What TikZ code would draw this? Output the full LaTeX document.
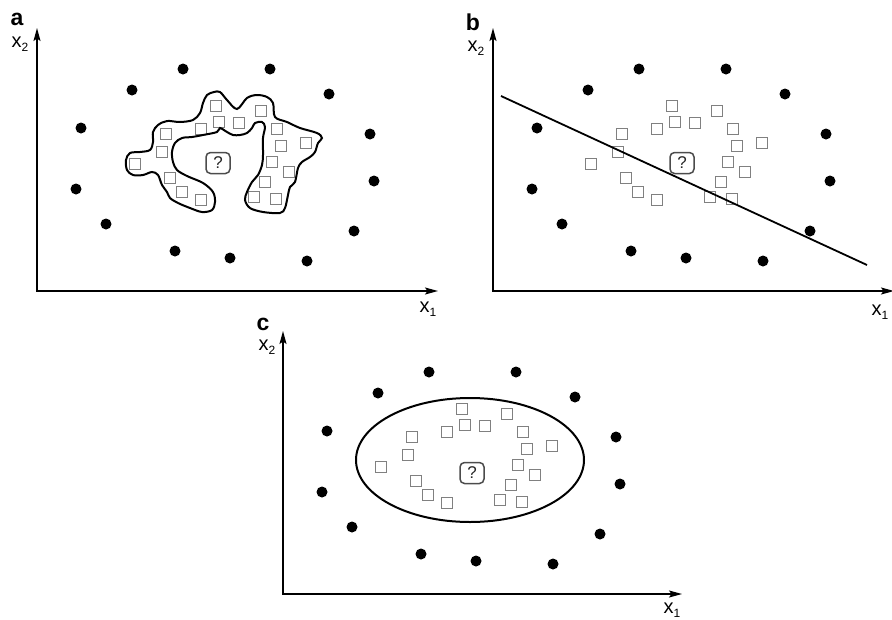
\documentclass[tikz,border=0pt]{standalone}
\usepackage{fontspec}
\setmainfont{Liberation Sans}
\usetikzlibrary{arrows.meta, positioning, calc}
\tikzset{
    scaxis/.style={{Stealth[length=13pt, width=7pt, inset=2.5pt]}-{Stealth[length=13pt, width=7pt, inset=2.5pt]}, line width=1.5pt},
    scdot/.style={circle, fill=black, inner sep=0pt, minimum size=11pt},
    scsquare/.style={rectangle, draw=black!50, line width=1.4pt, inner sep=0pt, minimum size=10.5pt},
    scquery/.style={rectangle, rounded corners=4.5pt, draw=black!70, line width=1.5pt, inner sep=0pt,
        minimum width=24pt, minimum height=21pt, text=black!85, font=\fontsize{17}{17}\selectfont},
    scbound/.style={line width=2pt},
    sctag/.style={font=\bfseries\fontsize{23}{23}\selectfont, inner sep=0pt},
    sclabel/.style={font=\fontsize{20}{20}\selectfont, inner sep=0pt}
}
\newcommand{\subx}[1]{x\raisebox{-0.4ex}{\fontsize{12}{12}\selectfont #1}}
% the same two classes in every panel, relative to its origin
\newcommand{\scatterpanel}[1]{%
  \foreach \px/\py [count=\i] in {146/-222, 95/-201, 44/-163, 39/-102, 69/-67, 138/-40, 233/-222,
      292/-197, 333/-157, 337/-110, 317/-60, 193/-33, 270/-30}
    \node[scdot] (#1d\i) at (\px,\py) {};
  \foreach \px/\py [count=\i] in {179/-185, 182/-169, 202/-168, 224/-180, 164/-162, 129/-157,
      125/-139, 98/-127, 133/-113, 145/-99, 164/-91, 240/-162, 244/-145, 269/-148, 235/-129,
      252/-119, 228/-109, 217/-94, 239/-92}
    \node[scsquare] (#1s\i) at (\px,\py) {};
}

\begin{document}
\begin{tikzpicture}[x=1pt, y=-1pt]
  \path[use as bounding box] (0,0) rectangle (892,619);
  % a: irregular boundary
  \begin{scope}[shift={(37,291)}]
    \coordinate (a-o) at (0,0);
    \coordinate (a-y) at (0,-263);
    \coordinate (a-x) at (401,0);
    \draw[scaxis] (a-y) -- (a-o) -- (a-x);
    \node[sctag] (a-tag) at (-20,-272) {a};
    \node[sclabel] (a-x2) at (-17,-247) {\subx{2}};
    \node[sclabel] (a-x1) at (391,18) {\subx{1}};
    \scatterpanel{a}
    \node[scquery] (a-q) at (181,-128) {?};
    \draw[scbound] plot[smooth cycle, tension=0.55] coordinates {
      (170,-196) (166,-188) (163,-178) (156,-171) (143,-169) (130,-170) (121,-166) (116,-159)
      (116,-149) (113,-141) (103,-139) (93,-138) (89,-131) (90,-121) (96,-116) (106,-116)
      (115,-119) (121,-116) (125,-106) (130,-99) (133,-93) (141,-88) (153,-83) (165,-79)
      (175,-81) (178,-89) (176,-99) (166,-108) (150,-115) (140,-121) (136,-129) (135,-139)
      (138,-148) (145,-153) (155,-154) (166,-156) (180,-159) (183,-163) (190,-159) (196,-156)
      (203,-156) (210,-158) (215,-163) (218,-168) (225,-169) (228,-164) (226,-153) (226,-136)
      (225,-126) (221,-116) (215,-109) (210,-99) (208,-91) (213,-83) (226,-79) (243,-78)
      (248,-83) (251,-96) (253,-104) (258,-109) (261,-123) (265,-129) (273,-134) (278,-139)
      (281,-148) (285,-153) (280,-158) (263,-163) (250,-169) (238,-174) (236,-188) (230,-194)
      (220,-196) (210,-193) (200,-182) (190,-191) (183,-199) (177,-199)};
  \end{scope}
  % b: linear boundary
  \begin{scope}[shift={(493,291)}]
    \coordinate (b-o) at (0,0);
    \coordinate (b-y) at (0,-263);
    \coordinate (b-x) at (401,0);
    \draw[scaxis] (b-y) -- (b-o) -- (b-x);
    \node[sctag] (b-tag) at (-20,-269) {b};
    \node[sclabel] (b-x2) at (-17,-243) {\subx{2}};
    \node[sclabel] (b-x1) at (387,21) {\subx{1}};
    \scatterpanel{b}
    \node[scquery] (b-q) at (189,-128) {?};
    \coordinate (b-l1) at (8,-195);
    \coordinate (b-l2) at (374,-26);
    \draw[scbound, line width=1.8pt] (b-l1) -- (b-l2);
  \end{scope}
  % c: elliptic boundary
  \begin{scope}[shift={(283,594)}]
    \coordinate (c-o) at (0,0);
    \coordinate (c-y) at (0,-263);
    \coordinate (c-x) at (399,0);
    \draw[scaxis] (c-y) -- (c-o) -- (c-x);
    \node[sctag] (c-tag) at (-20,-270) {c};
    \node[sclabel] (c-x2) at (-16,-247) {\subx{2}};
    \node[sclabel] (c-x1) at (389,16) {\subx{1}};
    \scatterpanel{c}
    \node[scquery] (c-q) at (189,-121) {?};
    \draw[scbound] (187,-134) ellipse [x radius=114, y radius=62];
  \end{scope}
\end{tikzpicture}
\end{document}
